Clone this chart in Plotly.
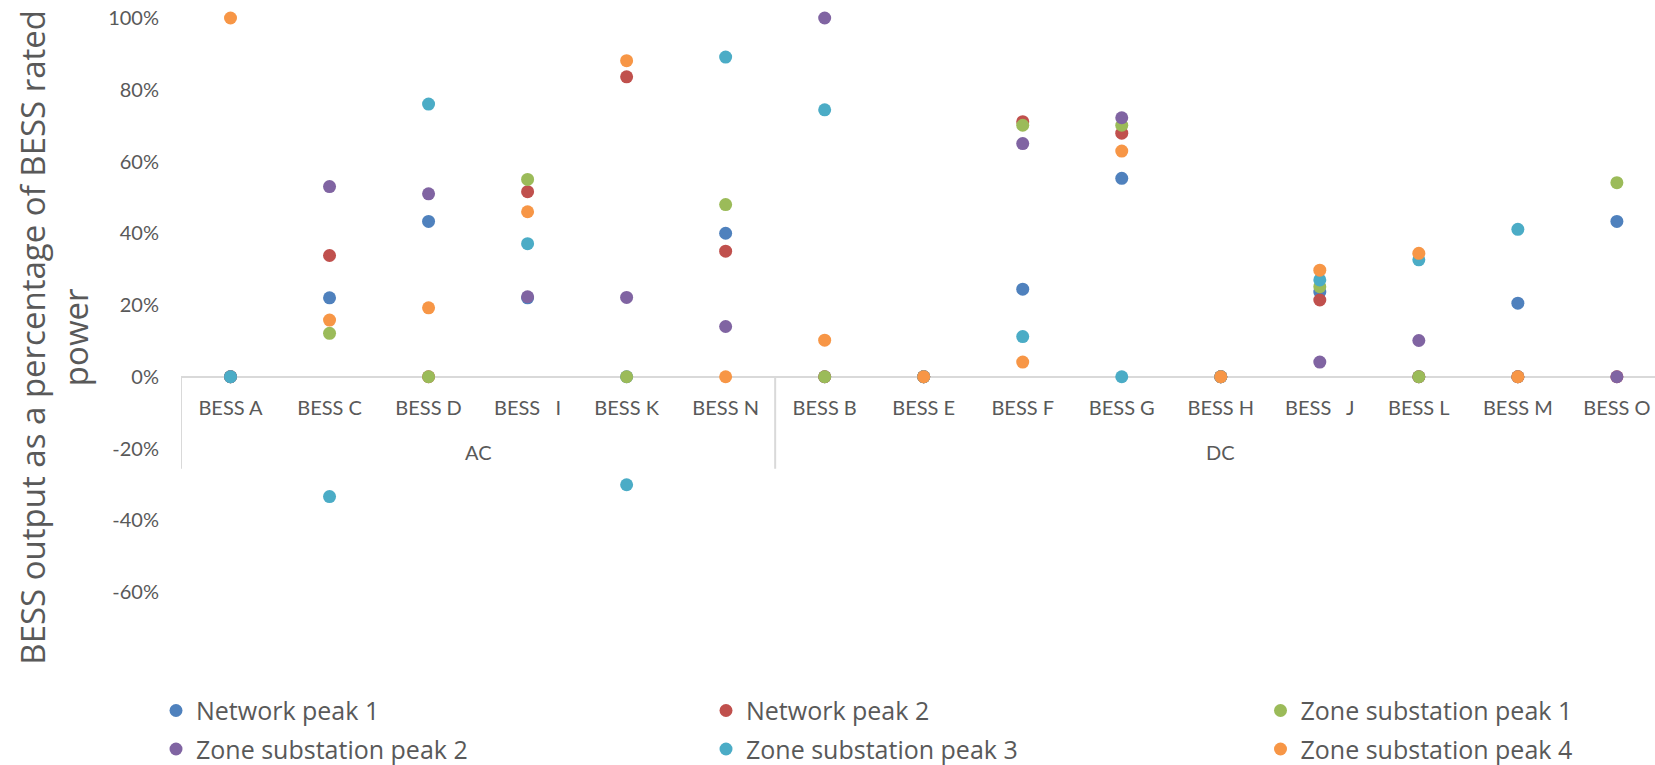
import plotly.graph_objects as go

# BESS units grouped by connection type
ac_units = ["BESS A", "BESS C", "BESS D", "BESS\u00a0\u00a0\u00a0I", "BESS K", "BESS N"]
dc_units = ["BESS B", "BESS E", "BESS F", "BESS G", "BESS H", "BESS\u00a0\u00a0\u00a0J", "BESS L", "BESS M", "BESS O"]
groups = [("AC", ac_units), ("DC", dc_units)]
categories = ac_units + dc_units

# BESS output (% of rated power) at each peak event, in category order
network_peak_1 = [0, 22, 43.3, 22, 0, 40, 0, 0, 24.4, 55.3, 0, 23.6, 0, 20.5, 43.3]
network_peak_2 = [0, 33.8, 0, 51.6, 83.6, 35, 0, 0, 71.1, 67.9, 0, 21.4, 0, 0, 0]
zone_peak_1 = [0, 12.1, 0, 55, 0, 48, 0, 0, 70.1, 70.1, 0, 25.1, 0, 0, 54.1]
zone_peak_2 = [0, 53, 51, 22.3, 22.1, 14, 100, 0, 65, 72.2, 0, 4.1, 10.1, 0, 0]
zone_peak_3 = [0, -33.4, 76, 37.1, -30.1, 89.1, 74.4, 0, 11.2, 0, 0, 27, 32.6, 41.1, None]
zone_peak_4 = [100, 15.8, 19.2, 46, 88.1, 0, 10.2, 0, 4.1, 62.9, 0, 29.7, 34.4, 0, None]

series = [
    ("Network peak 1", network_peak_1, "#4F81BD"),
    ("Network peak 2", network_peak_2, "#C0504D"),
    ("Zone substation peak 1", zone_peak_1, "#9BBB59"),
    ("Zone substation peak 2", zone_peak_2, "#8064A2"),
    ("Zone substation peak 3", zone_peak_3, "#4BACC6"),
    ("Zone substation peak 4", zone_peak_4, "#F79646"),
]

y_ticks = [-60, -40, -20, 0, 20, 40, 60, 80, 100]
y_tick_text = [f"{v}%" for v in y_ticks]
y_min, y_max = y_ticks[0], y_ticks[-1]

TEXT = "#595959"
GRID = "#D9D9D9"

# legend laid out as three columns of two entries each
legend_cols = 3
legend_ids = ["legend", "legend2", "legend3"]

fig = go.Figure()
for i, (name, values, color) in enumerate(series):
    fig.add_trace(go.Scatter(
        x=categories, y=values, name=name, mode="markers",
        marker=dict(size=13, color=color, line=dict(width=0)),
        cliponaxis=False,
        legend=legend_ids[i % legend_cols],
        legendgroup=name,
        legendrank=i,
    ))

# group labels and divider ticks under the category labels
shapes = []
annotations = []
start = 0
bounds = [-0.5]
for label, units in groups:
    mid = start + (len(units) - 1) / 2
    annotations.append(dict(
        x=mid, y=0, xref="x", yref="y", text=label, showarrow=False,
        yshift=-75, font=dict(family="Lato", size=20, color=TEXT),
    ))
    start += len(units)
    bounds.append(start - 0.5)
for b in bounds:
    shapes.append(dict(
        type="line", xref="x", yref="y", x0=b, x1=b,
        ysizemode="pixel", yanchor=0, y0=0, y1=-92,
        line=dict(color=GRID, width=2), layer="below",
    ))

annotations.append(dict(
    x=-0.0858, y=0.444, xref="paper", yref="paper",
    text="BESS output as a percentage of BESS rated<br>power",
    textangle=-90, showarrow=False, xanchor="center", yanchor="middle",
    font=dict(family="Open Sans", size=33, color=TEXT),
))

legend_style = dict(
    orientation="v", xref="container", yref="container",
    y=0.101, xanchor="left", yanchor="top",
    font=dict(family="Open Sans", size=25, color=TEXT),
    itemwidth=30, tracegroupgap=3, bgcolor="rgba(0,0,0,0)",
)
legend_x = [156, 706, 1260.5]

fig.update_layout(
    width=1655, height=765,
    margin=dict(l=181, r=0, t=18, b=173, autoexpand=False),
    paper_bgcolor="white", plot_bgcolor="white",
    showlegend=True,
    legend=dict(legend_style, x=legend_x[0] / 1655),
    legend2=dict(legend_style, x=legend_x[1] / 1655),
    legend3=dict(legend_style, x=legend_x[2] / 1655),
    xaxis=dict(
        type="category", range=[-0.5, 14.385],
        anchor="free", position=(0 - y_min) / (y_max - y_min),
        showline=False, showgrid=False, zeroline=False,
        ticks="", ticklabelstandoff=17, automargin=False,
        tickfont=dict(family="Lato", size=20, color=TEXT),
    ),
    yaxis=dict(
        range=[y_min, y_max], tickvals=y_ticks, ticktext=y_tick_text,
        showgrid=False, showline=False,
        zeroline=True, zerolinecolor=GRID, zerolinewidth=2,
        ticks="", ticklabelstandoff=21, automargin=False,
        tickfont=dict(family="Lato", size=20, color=TEXT),
    ),
    shapes=shapes,
    annotations=annotations,
)

fig.write_html("out.html")
